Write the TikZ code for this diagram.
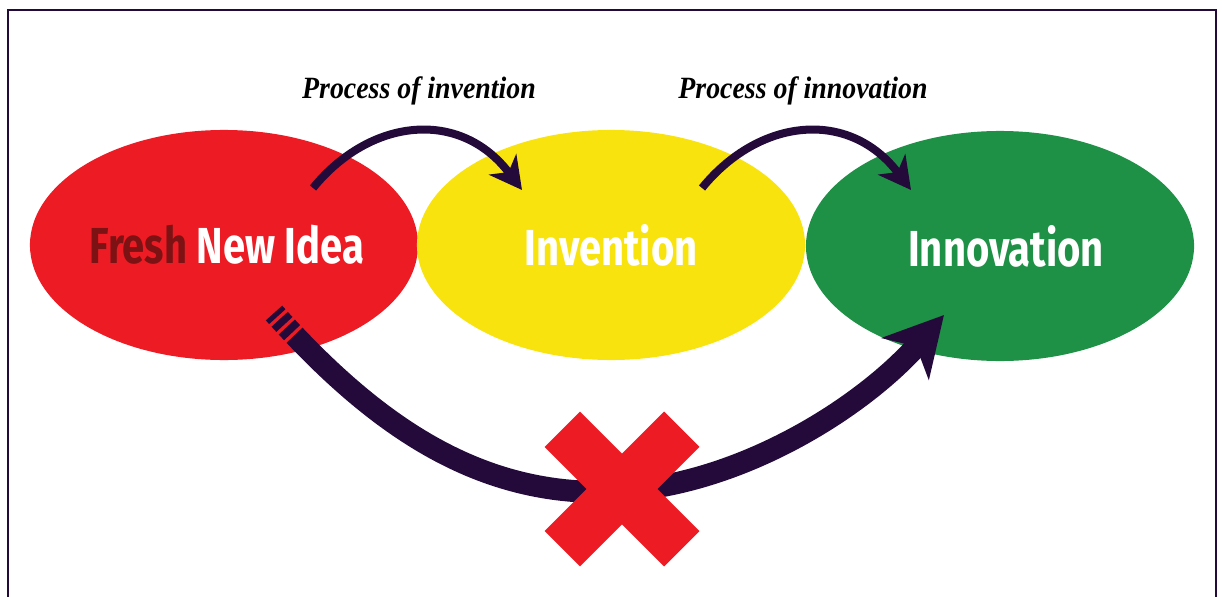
\documentclass[tikz,border=0pt]{standalone}
\usepackage{fontspec}
\usepackage{xcolor}
\usepackage{tikz}
\usetikzlibrary{
    shapes.geometric,
    arrows.meta,
    positioning
}
\newfontfamily\bubblefont[FakeStretch=0.79]{Fira Sans}
\newfontfamily\stagefont[FakeStretch=0.9]{Liberation Serif}
\definecolor{ideared}{HTML}{ED1C24}
\definecolor{freshred}{HTML}{7C1214}
\definecolor{invyellow}{HTML}{F9E30F}
\definecolor{innogreen}{HTML}{1E9146}
\definecolor{arrowink}{HTML}{230A3B}
\tikzstyle{bubble} = [
    ellipse,
    minimum width=9.7cm,
    minimum height=5.75cm,
    inner xsep=-1cm,
    inner ysep=0pt,
    text=white,
    font=\bubblefont\bfseries\fontsize{36}{40}\selectfont
]
\tikzstyle{stage} = [
    font=\stagefont\bfseries\itshape\fontsize{22}{25}\selectfont,
    text=black
]
\tikzstyle{hop} = [
    draw=arrowink,
    line width=0.2cm,
    -{Stealth[length=0.8cm,width=0.85cm,inset=0.24cm]}
]
\tikzstyle{skip} = [
    draw=arrowink,
    line width=0.55cm,
    -{Stealth[length=1.45cm,width=1.55cm,inset=0.4cm]},
    dash pattern=on 3.5pt off 2.5pt on 5pt off 2.5pt on 5.5pt off 2.5pt on 1000pt
]

\begin{document}
\begin{tikzpicture}[x=0.025cm, y=-0.025cm]
    \useasboundingbox (0,0) rectangle (1222,597);
    % frame, open at the bottom
    \draw[arrowink, line width=1.2pt] (8,597) -- (8,10) -- (1216,10) -- (1216,597);

    % the three stages
    \node[bubble, fill=ideared] (idea) at (224,245)
        {\hspace{0.15cm}\textcolor{freshred}{Fresh} New Idea};
    \node[bubble, fill=invyellow] (invention) at (611,245) {Invention};
    \node[bubble, fill=innogreen] (innovation) at (1000,246) {\hspace{0.3cm}Innovation};

    \node[stage] (invlabel) at (419,91) {Process of invention};
    \node[stage] (innlabel) at (803,91) {Process of innovation};

    % arrow ends
    \coordinate (hop1s) at (313,188);
    \coordinate (hop1e) at (522,190);
    \coordinate (hop2s) at (702,188);
    \coordinate (hop2e) at (911,190);
    \coordinate (skips) at (274,313);
    \coordinate (skipm) at (600,492);
    \coordinate (skipe) at (944,315);

    \draw[hop] (hop1s) .. controls (370,118) and (460,108) .. (hop1e);
    \draw[hop] (hop2s) .. controls (759,118) and (849,108) .. (hop2e);
    \draw[skip] (skips) .. controls (370,420) and (470,492) .. (skipm)
        .. controls (730,492) and (860,410) .. (skipe);

    % the cross
    \fill[ideared, rotate around={45:(622,489)}] (537.5,464) rectangle (706.5,514);
    \fill[ideared, rotate around={-45:(622,489)}] (537.5,464) rectangle (706.5,514);
\end{tikzpicture}
\end{document}
